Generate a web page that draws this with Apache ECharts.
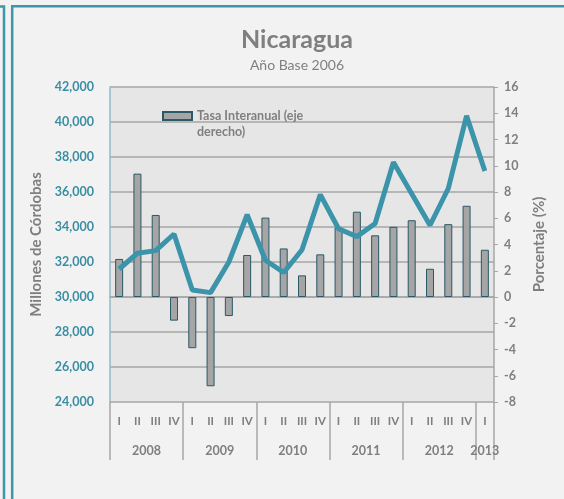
<!DOCTYPE html>
<html style="height: 100%">
<head>
    <meta charset="utf-8">
</head>
<body style="height: 100%; margin: 0">
<div id="container" style="height: 100%"></div>
<script type="text/javascript" src="https://cdn.jsdelivr.net/npm/echarts@6/dist/echarts.min.js"></script>
<script type="text/javascript">

// trimestres 2008 I - 2013 I
var quarters = ['I','II','III','IV','I','II','III','IV','I','II','III','IV',
                'I','II','III','IV','I','II','III','IV','I'];
var years = ['2008', '2009', '2010', '2011', '2012', '2013'];
var quartersPerYear = [4, 4, 4, 4, 4, 1];

// PIB trimestral, millones de córdobas (eje izquierdo)
var pib = [31600, 32500, 32650, 33600, 30400, 30250, 32000, 34700, 32100, 31400, 32700,
           35850, 33900, 33450, 34200, 37700, 35900, 34100, 36200, 40350, 37200];
// Tasa interanual, % (eje derecho)
var tasa = [2.9, 9.4, 6.25, -1.8, -3.9, -6.8, -1.45, 3.2, 6.05, 3.7, 1.65,
            3.25, 5.3, 6.5, 4.7, 5.35, 5.85, 2.15, 5.55, 6.95, 3.6];

var gray = '#7f7f7f';
var teal = '#3b94a9';
var font = 'Lato';

// year separators and label positions on a 0..21 value axis
var yearTicks = [0];
var yearLabelPos = [];
quartersPerYear.forEach(function (n) {
    var start = yearTicks[yearTicks.length - 1];
    yearLabelPos.push(start + n / 2);
    yearTicks.push(start + n);
});

var dom = document.getElementById('container');
var myChart = echarts.init(dom);

var option = {
    backgroundColor: '#f2f2f2',
    textStyle: { fontFamily: font },
    title: {
        text: 'Nicaragua',
        subtext: 'Año Base 2006',
        left: 292,
        textAlign: 'center',
        top: 22,
        itemGap: 6,
        textStyle: { color: gray, fontSize: 25, fontWeight: 'bold', fontFamily: font },
        subtextStyle: { color: gray, fontSize: 14, fontFamily: font }
    },
    legend: {
        data: ['Tasa Interanual (eje derecho)'],
        left: 157,
        top: 103,
        itemWidth: 29,
        itemHeight: 24,
        itemGap: 3,
        // rect drawn in the top part of the icon box so it sits beside the first line
        icon: 'path://M0,0h29v8h-29zM0,24',
        formatter: function () { return '{b|Tasa Interanual (eje}\n{b|derecho)}'; },
        textStyle: {
            color: gray,
            fontSize: 12.5,
            fontWeight: 'bold',
            lineHeight: 16,
            fontFamily: font,
            rich: {
                b: { color: gray, fontSize: 12.5, fontWeight: 'bold', lineHeight: 16, fontFamily: font }
            }
        }
    },
    graphic: [
        {
            type: 'rect',
            shape: { x: 12.2, y: 6.2, width: 700, height: 700 },
            style: { fill: null, stroke: '#3e96aa', lineWidth: 2.5 },
            silent: true
        },
        {
            type: 'polyline',
            shape: { points: [[-5, 6.5], [4, 6.5], [4, 520]] },
            style: { fill: null, stroke: '#3e96aa', lineWidth: 2.5 },
            silent: true
        }
    ],
    grid: {
        left: 110,
        right: 70,
        top: 87,
        bottom: 97,
        show: true,
        backgroundColor: '#e6e6e6',
        borderWidth: 0
    },
    xAxis: [
        {
            type: 'category',
            data: quarters,
            boundaryGap: true,
            axisLine: { show: true, lineStyle: { color: '#a6a6a6', width: 1.5 } },
            axisTick: { show: false },
            axisLabel: { color: gray, fontSize: 11.5, fontWeight: 'bold', margin: 13, interval: 0, fontFamily: font }
        },
        {
            type: 'value',
            min: 0,
            max: quarters.length,
            position: 'bottom',
            axisLine: { show: false },
            splitLine: { show: false },
            axisTick: {
                show: true,
                customValues: yearTicks,
                length: 58,
                lineStyle: { color: '#a6a6a6', width: 1.5 }
            },
            axisLabel: {
                customValues: yearLabelPos,
                formatter: function (v) { return years[yearLabelPos.indexOf(v)]; },
                color: gray,
                fontSize: 12.5,
                fontWeight: 'bold',
                margin: 42,
                fontFamily: font
            }
        }
    ],
    yAxis: [
        {
            type: 'value',
            min: 24000,
            max: 42000,
            interval: 2000,
            name: 'Millones de Córdobas',
            nameLocation: 'middle',
            nameGap: 62,
            nameTextStyle: { color: gray, fontSize: 15, fontWeight: 'bold', fontFamily: font },
            axisLine: { show: true, lineStyle: { color: '#8dbcc8', width: 1.5 } },
            axisTick: { show: false },
            axisLabel: {
                color: '#3a8ea3',
                fontSize: 12.5,
                fontWeight: 'bold',
                margin: 16,
                fontFamily: font,
                formatter: function (v) { return v.toLocaleString('en-US'); }
            },
            splitLine: { show: true, lineStyle: { color: '#a6a6a6', width: 1.5 } }
        },
        {
            type: 'value',
            min: -8,
            max: 16,
            interval: 2,
            position: 'right',
            name: 'Porcentaje (%)',
            nameLocation: 'middle',
            nameGap: 38,
            nameRotate: 90,
            nameTextStyle: { color: gray, fontSize: 15, fontWeight: 'bold', fontFamily: font },
            axisLine: { show: true, lineStyle: { color: '#a6a6a6', width: 1.5 } },
            axisTick: { show: true, length: 4, lineStyle: { color: '#a6a6a6' } },
            axisLabel: { color: gray, fontSize: 12.5, fontWeight: 'bold', margin: 10, fontFamily: font },
            splitLine: { show: false }
        }
    ],
    series: [
        {
            name: 'Tasa Interanual (eje derecho)',
            type: 'bar',
            xAxisIndex: 0,
            yAxisIndex: 1,
            data: tasa,
            barWidth: 8,
            itemStyle: { color: '#a5a5a5', borderColor: '#2a5967', borderWidth: 1 },
            z: 2
        },
        {
            name: 'PIB',
            type: 'line',
            xAxisIndex: 0,
            yAxisIndex: 0,
            data: pib,
            symbol: 'none',
            lineStyle: { color: teal, width: 5 },
            itemStyle: { color: teal },
            z: 3
        }
    ]
};

myChart.setOption(option);

</script>
</body>
</html>
